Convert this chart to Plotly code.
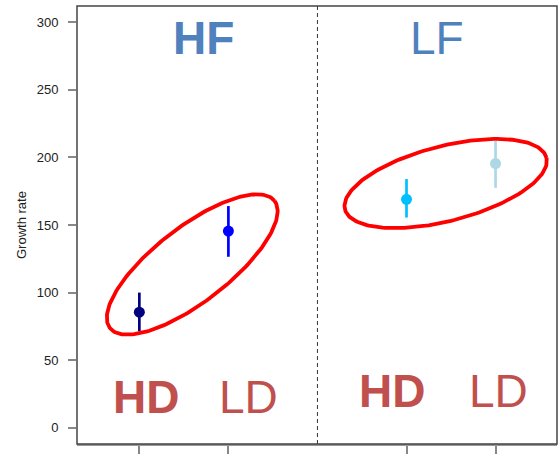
import numpy as np
import plotly.graph_objects as go

# ---- data ----
groups = ["HD-HF", "LD-HF", "HD-LF", "LD-LF"]
x_pos = [1, 2, 4, 5]
growth = [85.5, 145.5, 169, 195.5]
err_up = [14.5, 18.5, 15, 17]
err_down = [14, 19, 13.5, 18]
colors = ["#000080", "#0000FF", "#00BFFF", "#ADD8E6"]
y_ticks = [0, 50, 100, 150, 200, 250, 300]

W, H = 558, 454
ml, mr, mt, mb = 77, 1, 6, 10
xr = [0.3, 5.69]
yr = [-12, 312]
pw, ph = W - ml - mr, H - mt - mb
sx = pw / (xr[1] - xr[0])
sy = ph / (yr[1] - yr[0])

fig = go.Figure()

for i in range(4):
    fig.add_trace(go.Scatter(
        x=[x_pos[i]], y=[growth[i]], mode="markers",
        marker=dict(color=colors[i], size=11),
        error_y=dict(type="data", symmetric=False, array=[err_up[i]], arrayminus=[err_down[i]],
                     color=colors[i], thickness=2.7, width=0),
        showlegend=False, hoverinfo="skip"))

# decorative ellipses (center in data units, semi-axes in px, angle deg)
def ellipse(cx, cy, a, b, ang):
    t = np.linspace(0, 2 * np.pi, 200)
    th = np.radians(ang)
    px = a * np.cos(t) * np.cos(th) - b * np.sin(t) * np.sin(th)
    py = a * np.cos(t) * np.sin(th) + b * np.sin(t) * np.cos(th)
    return cx + px / sx, cy + py / sy

for (cx, cy, ang) in [(1.594, 120.8, 37.7), (4.44, 180.7, 14.4)]:
    ex, ey = ellipse(cx, cy, 104, 37.5, ang)
    fig.add_trace(go.Scatter(x=ex, y=ey, mode="lines", line=dict(color="#FF0000", width=3.8),
                             showlegend=False, hoverinfo="skip"))

# dashed separator
fig.add_shape(type="line", x0=3, x1=3, y0=0, y1=1, xref="x", yref="paper",
              line=dict(color="#333333", width=1, dash="4px,3px"))
# box
fig.add_shape(type="rect", x0=0, x1=1, y0=0, y1=1, xref="paper", yref="paper",
              line=dict(color="#444444", width=1.5))

blue = "#4F81BD"
red = "#C0504D"
labels = [
    ("<b>HF</b>", 1.72, 288.3, blue),
    ("LF", 4.34, 288.3, blue),
    ("<b>HD</b>", 1.075, 23, red),
    ("LD", 2.23, 23, red),
    ("<b>HD</b>", 3.84, 27.5, red),
    ("LD", 5.03, 27.5, red),
]
for txt, x, y, c in labels:
    fig.add_annotation(text=txt, x=x, y=y, xref="x", yref="y", showarrow=False,
                       font=dict(family="Liberation Sans, Arial", size=46, color=c),
                       xanchor="center", yanchor="middle")

fig.add_annotation(text="Growth rate", x=0, y=0.5, xref="paper", yref="paper",
                   xshift=-56, textangle=-90, showarrow=False,
                   font=dict(family="Liberation Sans, Arial", size=13, color="#222222"),
                   xanchor="center", yanchor="middle")

fig.update_layout(
    width=W, height=H,
    margin=dict(l=ml, r=mr, t=mt, b=mb),
    plot_bgcolor="white", paper_bgcolor="white",
    font=dict(family="Liberation Sans, Arial", size=13, color="#222222"),
    xaxis=dict(range=xr, tickvals=x_pos, showticklabels=False, ticks="outside", ticklen=8,
               tickcolor="#888888", tickwidth=1.5, showgrid=False, zeroline=False,
               showline=True, linecolor="#999999", linewidth=1.5),
    yaxis=dict(range=yr, tickvals=y_ticks, ticks="outside", ticklen=8, tickcolor="#888888",
               tickwidth=1.5, showgrid=False, zeroline=False, ticklabelstandoff=7,
               tickfont=dict(size=13, color="#222222")),
)

fig.write_html("out.html", config={"displayModeBar": False},
               post_script="document.body.style.margin='0';")
